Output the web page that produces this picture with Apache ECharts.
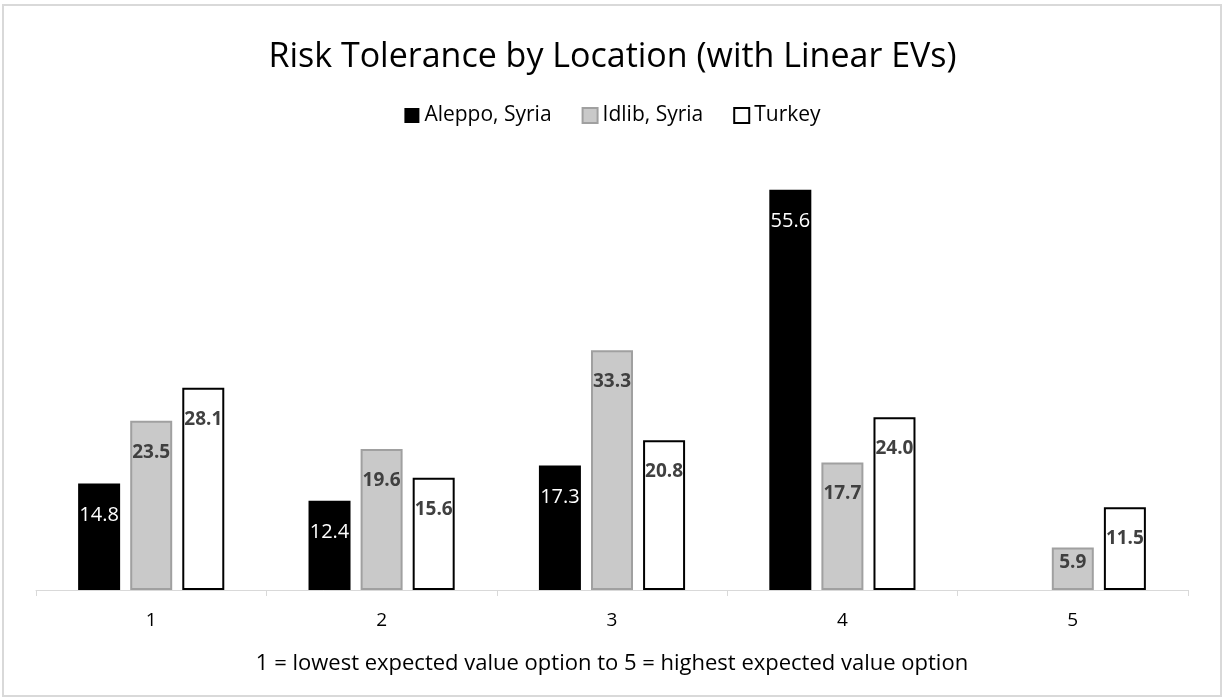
<!DOCTYPE html>
<html>
<head>
<meta charset="utf-8">
<script src="https://cdn.jsdelivr.net/npm/echarts@6/dist/echarts.min.js"></script>
<style>
  html, body { margin: 0; padding: 0; background: #fff; }
  #chart { width: 1225px; height: 700px; }
</style>
</head>
<body>
<div id="chart"></div>
<script>
var categories = ['1', '2', '3', '4', '5']
var aleppo = [14.8, 12.4, 17.3, 55.6, null]
var idlib = [23.5, 19.6, 33.3, 17.7, 5.9]
var turkey = [28.1, 15.6, 20.8, 24.0, 11.5]
var seriesNames = ['Aleppo, Syria', 'Idlib, Syria', 'Turkey']

var font = '"Open Sans", "Noto Sans", sans-serif'

// short bars get the label closer to the top
function withLabels(values) {
  return values.map(function(v) {
    if (v !== null && v < 8) {
      return { value: v, label: { distance: 6 } }
    }
    return v
  })
}

var darkLabel = {
  show: true,
  position: 'insideTop',
  distance: 22,
  color: '#404040',
  fontWeight: 'bold',
  fontSize: 19,
  fontFamily: font,
  formatter: function(p) { return p.value.toFixed(1) }
}

var chart = echarts.init(document.getElementById('chart'))
chart.setOption({
  animation: false,
  graphic: [{
    type: 'rect',
    shape: { x: 3, y: 5, width: 1218, height: 691 },
    style: { fill: 'none', stroke: '#d9d9d9', lineWidth: 2 },
    silent: true
  }],
  title: {
    text: 'Risk Tolerance by Location (with Linear EVs)',
    left: 'center',
    top: 35,
    textStyle: { fontFamily: font, fontSize: 34, fontWeight: 'normal', color: '#000' }
  },
  legend: {
    data: seriesNames,
    top: 100,
    left: 'center',
    icon: 'rect',
    itemWidth: 15,
    itemHeight: 15,
    itemGap: 30,
    textStyle: { fontFamily: font, fontSize: 21, color: '#000' }
  },
  grid: {
    left: 36,
    right: 37,
    top: 158,
    bottom: 110
  },
  xAxis: {
    type: 'category',
    data: categories,
    name: '1 = lowest expected value option to 5 = highest expected value option',
    nameLocation: 'middle',
    nameGap: 63,
    nameTextStyle: { fontFamily: font, fontSize: 22, color: '#000' },
    axisLine: { lineStyle: { color: '#d9d9d9', width: 1 } },
    axisTick: { show: true, length: 6, lineStyle: { color: '#d9d9d9' } },
    axisLabel: { fontFamily: font, fontSize: 19, color: '#000', margin: 21 }
  },
  yAxis: {
    type: 'value',
    min: 0,
    max: 60,
    show: false,
    splitLine: { show: false }
  },
  series: [
    {
      name: seriesNames[0],
      type: 'bar',
      data: aleppo,
      barWidth: 42,
      barGap: '24%',
      itemStyle: { color: '#000', borderColor: '#000', borderWidth: 0 },
      label: {
        show: true,
        position: 'insideTop',
        distance: 22,
        color: '#fff',
        fontSize: 20,
        fontFamily: font,
        formatter: function(p) { return p.value.toFixed(1) }
      }
    },
    {
      name: seriesNames[1],
      type: 'bar',
      data: withLabels(idlib),
      barWidth: 42,
      barGap: '24%',
      itemStyle: { color: '#c9c9c9', borderColor: '#a0a0a0', borderWidth: 2 },
      label: darkLabel
    },
    {
      name: seriesNames[2],
      type: 'bar',
      data: withLabels(turkey),
      barWidth: 42,
      barGap: '24%',
      itemStyle: { color: '#fff', borderColor: '#000', borderWidth: 2 },
      label: darkLabel
    }
  ]
})
</script>
</body>
</html>
